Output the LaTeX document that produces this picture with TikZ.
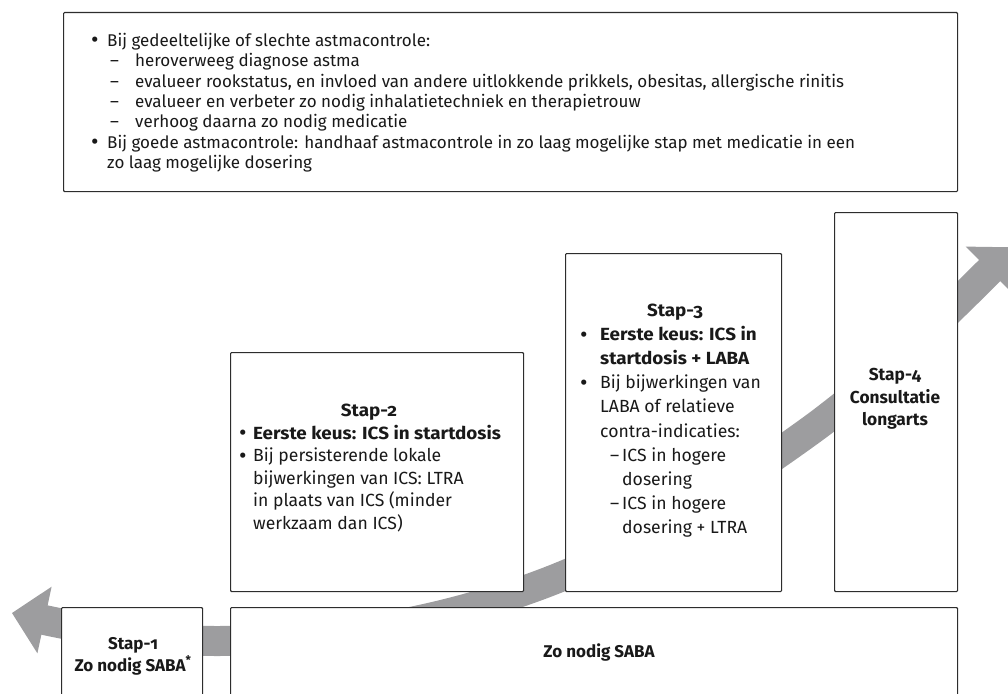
\documentclass[tikz,border=0pt]{standalone}
\usepackage{fontspec}
\setmainfont{Fira Sans}[Numbers=OldStyle]
\newfontfamily\widefira{Fira Sans}[Numbers=OldStyle,FakeStretch=1.07]
\definecolor{band}{RGB}{157,157,159}
\definecolor{edge}{RGB}{45,45,45}
\definecolor{ink}{RGB}{25,25,25}
\begin{document}
\begin{tikzpicture}[x=1pt,y=-1pt,
  box/.style={draw=edge,line width=1.1pt,fill=white,rounded corners=1pt,inner sep=0pt,anchor=north west},
  ln/.style={anchor=base west,inner sep=0pt,text=ink,font=\fontsize{17}{20}\selectfont},
  sln/.style={ln,font=\fontsize{17.6}{20}\selectfont},
  lnb/.style={ln,font=\widefira\bfseries\fontsize{17.6}{20}\selectfont},
  ttl/.style={anchor=base,inner sep=0pt,text=ink,font=\widefira\bfseries\fontsize{17.6}{20}\selectfont},
  bul/.style={anchor=base west,inner sep=0pt,text=ink,font=\fontsize{23}{23}\selectfont},
  ctr/.style={inner sep=0pt,text=ink,align=center},
  head/.style={fill=band,draw=none}]
\useasboundingbox (0,0) rectangle (1008,693);
\clip (0,0) rectangle (1008,693);
% band (curved double arrow behind the steps)
\draw[band,line width=30pt,line cap=butt]
  (41.6,619.4) .. controls (100.7,632.1) and (158.8,641) .. (216,641)
  .. controls (325.7,641) and (435.3,624.7) .. (545,583)
  .. controls (632.3,549.8) and (719.7,495.9) .. (807,433)
  .. controls (867.9,389.2) and (928.7,331.5) .. (991.7,268.5);
\fill[head] (12,613) -- (51.6,586.7) -- (37.4,653.3) -- cycle;
\fill[head] (1012.9,247.3) -- (965.6,246.6) -- (1013.6,294.6) -- cycle;
% boxes
\node[box,minimum width=894pt,minimum height=179pt] (top) at (63,12) {};
\node[box,minimum width=141pt,minimum height=110pt] (s1) at (61,607) {};
\node[box,minimum width=727pt,minimum height=110pt] (saba) at (230,607) {};
\node[box,minimum width=293pt,minimum height=239pt] (s2) at (230,352) {};
\node[box,minimum width=216pt,minimum height=338pt] (s3) at (565,253) {};
\node[box,minimum width=123pt,minimum height=379pt] (s4) at (834,212) {};
% top box text
\node[bul] (tb1) at (91,48) {•};
\node[ln] (tl1) at (107,46.5) {Bij gedeeltelijke of slechte astmacontrole:};
\node[ln] (td2) at (110,66.8) {–};
\node[ln] (tl2) at (135,66.8) {heroverweeg diagnose astma};
\node[ln] (td3) at (110,87.1) {–};
\node[ln] (tl3) at (135,87.1) {evalueer rookstatus, en invloed van andere uitlokkende prikkels, obesitas, allergische rinitis};
\node[ln] (td4) at (110,107.4) {–};
\node[ln] (tl4) at (135,107.4) {evalueer en verbeter zo nodig inhalatietechniek en therapietrouw};
\node[ln] (td5) at (110,127.7) {–};
\node[ln] (tl5) at (135,127.7) {verhoog daarna zo nodig medicatie};
\node[bul] (tb6) at (91,149.5) {•};
\node[ln] (tl6) at (107,148) {Bij goede astmacontrole: handhaaf astmacontrole in zo laag mogelijke stap met medicatie in een};
\node[ln] (tl7) at (107,168.3) {zo laag mogelijke dosering};
% stap-2 text
\node[ttl] (s2t) at (369,416.5) {Stap-2};
\node[bul] (s2b1) at (239,440.6) {•};
\node[lnb] (s2l1) at (253,439.1) {Eerste keus: ICS in startdosis};
\node[bul] (s2b2) at (239,463.2) {•};
\node[sln] (s2l2) at (253,461.7) {Bij persisterende lokale};
\node[sln] (s2l3) at (253,484.3) {bijwerkingen van ICS: LTRA};
\node[sln] (s2l4) at (253,506.9) {in plaats van ICS (minder};
\node[sln] (s2l5) at (253,529.5) {werkzaam dan ICS)};
% stap-3 text
\node[ttl] (s3t) at (675,316.5) {Stap-3};
\node[bul] (s3b1) at (580,342.1) {•};
\node[lnb] (s3l1) at (600,340.6) {Eerste keus: ICS in};
\node[lnb] (s3l2) at (600,364.7) {startdosis + LABA};
\node[bul] (s3b2) at (580,390.3) {•};
\node[sln] (s3l3) at (600,388.8) {Bij bijwerkingen van};
\node[sln] (s3l4) at (600,412.9) {LABA of relatieve};
\node[sln] (s3l5) at (600,437) {contra-indicaties:};
\node[sln] (s3d6) at (610,461.1) {–};
\node[sln] (s3l6) at (622,461.1) {ICS in hogere};
\node[sln] (s3l7) at (622,485.2) {dosering};
\node[sln] (s3d8) at (610,509.3) {–};
\node[sln] (s3l8) at (622,509.3) {ICS in hogere};
\node[sln] (s3l9) at (622,533.4) {dosering + LTRA};
% stap-4, stap-1, saba
\node[ctr,font=\bfseries\fontsize{17.3}{22.5}\selectfont] (s4text) at (895,399) {Stap-4\\Consultatie\\longarts};
\node[ctr,font=\bfseries\fontsize{17}{22}\selectfont] (s1text) at (133,656) {Stap-1\\Zo nodig SABA\textsuperscript{*}};
\node[ctr,font=\bfseries\fontsize{17}{22}\selectfont] (sabatext) at (599,652) {Zo nodig SABA};
\end{tikzpicture}
\end{document}
